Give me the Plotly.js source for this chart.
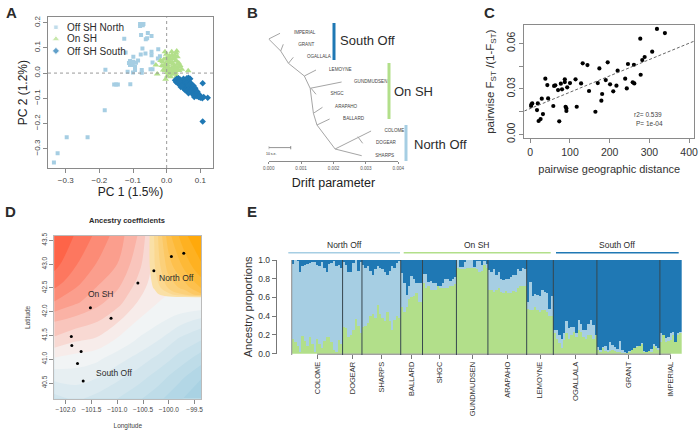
<!DOCTYPE html>
<html>
<head>
<meta charset="utf-8">
<script src="https://cdn.plot.ly/plotly-3.0.1.min.js"></script>
<style>html,body{margin:0;padding:0;background:#fff}</style>
</head>
<body>
<div id="chart" style="width:700px;height:433px"></div>
<script>
"use strict"

const W = 700, H = 433;
const font = 'Liberation Sans, Arial, sans-serif';
const lightBlue = '#a6cee3', midGreen = '#b2df8a', darkBlue = '#1f78b4';
const boxGrey = '#8a8a8a', tickText = '#444';

// panel A, PCA
const northX = [-.335,-.324,-.297,-.235,-.184,-.182,-.156,-.15,-.145,-.108,-.126,-.122,-.116,-.079,-.074,-.069,-.079,-.071,-.056,-.045,-.062,-.058,-.076,-.072,-.077,-.063,-.045,-.045,-.025,-.099,-.109,-.099,-.091,-.109,-.101,-.094,-.094,-.074,-.074,-.042,-.048,-.042,-.026,-.02,-.1,-.112,-.085];
const northY = [-.355,-.318,-.255,-.255,-.147,.013,-.045,-.045,-.045,-.044,.136,.082,.005,.195,.195,.195,.187,.19,.159,.147,.134,.138,.151,.098,.074,.078,.085,.071,.095,.065,.048,.045,.041,.032,.032,.025,.012,.012,.001,.042,.015,.015,.058,.067,.002,.04,.05];
const onX = [-.005,.015,.03,-.032,-.028,-.003,.064,.028,-.018,-.012,-.008,-.004,0,.004,.008,.012,.016,.02,.024,.028,.032,.036,.04,-.014,-.009,-.002,.003,.007,.011,.015,.019,.023,.027,.031,.035,-.01,-.005,.001,.005,.009,.013,.017,.021,.025,.029,.033,.037,.002,.006,.01,.014,.018,.022,.026,.03,.012,.02,.025,.008,.016,-.001,.045,.002];
const onY = [.085,.085,.088,.032,-.004,-.024,.009,.08,.05,.045,.055,.035,.06,.05,.068,.04,.072,.058,.065,.05,.065,.04,.03,.03,.028,.025,.032,.045,.055,.02,.035,.028,.048,.035,.025,.012,.01,.016,.022,.012,.01,.012,.018,.01,.02,.012,.01,.002,0,.004,-.002,.002,-.005,.003,-.012,-.015,.06,.07,.062,.042,.075,.015,-.012];
const southX = [.025,.03,.035,.04,.028,.033,.038,.045,.05,.055,.06,.065,.07,.048,.053,.058,.062,.067,.072,.042,.05,.055,.06,.065,.07,.075,.08,.055,.06,.065,.07,.075,.08,.085,.065,.07,.078,.083,.088,.092,.08,.085,.09,.095,.082,.09,.095,.1,.1,.106,.11,.122,.107,.107,.038,.045];
const southY = [-.028,-.022,-.02,-.025,-.035,-.04,-.045,-.03,-.022,-.028,-.02,-.018,-.022,-.04,-.045,-.05,-.04,-.035,-.04,-.055,-.06,-.055,-.06,-.05,-.055,-.06,-.05,-.068,-.07,-.065,-.068,-.07,-.065,-.06,-.08,-.075,-.08,-.075,-.07,-.075,-.088,-.085,-.08,-.085,-.095,-.092,-.095,-.09,-.098,-.1,-.095,-.098,-.04,-.192,-.032,-.05];
const legendNames = ['Off SH North', 'On SH', 'Off SH South'];
const legendKeyX = [-.329, -.329, -.329];
const legendKeyY = [.182, .135, .088];

// panel B, drift tree, segments as x/y pairs, null breaks a segment
const treeX = [0,.00035,null,0,.00037,.00061,.0011,.00128,.00138,.00149,.00205,.00316,null,.00037,.00045,null,.00061,.00076,null,.0011,.00146,null,.00128,.00225,null,.00131,.00146,null,.00138,.00166,null,.00149,.00188,null,.00205,.00287,null,.00275,.0029];
const treeY = [39,33.3,null,39,51,63.3,76,88.3,113.3,125,149,131,null,51,44.3,null,63.3,57.3,null,76,70,null,88.3,82,null,88.3,94.3,null,113.3,107.3,null,125,119,null,149,155.7,null,136.7,143.3];
const tipNames = ['IMPERIAL','GRANT','OGALLALA','LEMOYNE','GUNDMUDSEN','SHGC','ARAPAHO','BALLARD','COLOME','DOGEAR','SHARPS'];
const tipX = [.00111,.00116,.00155,.00221,.00315,.00211,.00239,.00262,.00388,.00362,.00358];
const tipY = [33.3,45.3,57.3,69.7,82,94.3,106.7,118.7,131,143.3,155.7];
const scaleBarX = [0,0,null,0,.00068,null,.00068,.00068];
const scaleBarY = [146,149.3,null,147.6,147.6,null,146,149.3];

// panel C, isolation by distance
const distance = [2,3,5,19,17,21,26,32,29,45,38,43,58,60,63,70,73,77,80,87,87,89,91,91,93,100,114,117,128,132,144,148,164,170,174,179,181,190,195,201,209,217,220,239,243,246,258,261,262,277,278,282,288,307,319,339];
const fst = [.0187,.0198,.0204,.0204,.016,.0088,.0101,.0134,.0235,.0237,.0367,.0325,.0187,.0319,.0323,.0292,.0086,.0334,.0297,.0345,.0363,.0182,.0171,.0154,.031,.0338,.0363,.0182,.0336,.0468,.0457,.0286,.0149,.0338,.0435,.0222,.0266,.0358,.0475,.033,.0284,.0321,.042,.0367,.0303,.0464,.0343,.0459,.0336,.0631,.0393,.049,.051,.0545,.0695,.0668];
const fitDistance = [-15,413];
const fitFst = [.0154,.0615];

// panel D, ancestry surfaces
const mapLon = [-102.22,-101.8,-101.4,-101,-100.6,-100.2,-99.8,-99.37];
const mapLat = [40.17,40.6,41,41.4,41.8,42.2,42.6,43,43.59];
const onSouthZ = [
	[-.42,-.35,-.42,-.5,-.6,-.72,-.85,-1],
	[-.22,-.2,-.25,-.35,-.45,-.57,-.72,-.87],
	[-.02,-.06,-.1,-.2,-.3,-.42,-.55,-.7],
	[.22,.14,.1,-.02,-.14,-.25,-.4,-.5],
	[.38,.32,.26,.14,-.01,-.1,-.2,-.3],
	[.62,.52,.42,.3,.12,.0,0,0],
	[.8,.66,.52,.42,.22,.02,0,0],
	[.92,.76,.62,.5,.3,.03,0,0],
	[1,.86,.72,.57,.37,.03,0,0]
];
const orangeLon = [-102.22,-100.4,-100.28,-100,-99.7,-99.37];
const orangeLat = [40.17,42.3,42.36,42.5,42.9,43.59];
const orangeZ = [
	[0,0,0,0,0,0],
	[0,0,0,0,0,0],
	[0,0,0,.12,.28,.5],
	[0,0,.05,.3,.45,.65],
	[0,0,.14,.45,.65,.85],
	[0,0,.17,.6,.85,1]
];
const siteLon = [-99.71,-99.95,-100.29,-100.6,-101.52,-101.12,-101.89,-101.88,-101.7,-101.77,-101.66];
const siteLat = [43.23,43.16,42.86,42.6,42.08,41.86,41.48,41.29,41.16,40.91,40.54];

// panel E, admixture, one group per population
const popNames = ['COLOME','DOGEAR','SHARPS','BALLARD','SHGC','GUNDMUDSEN','ARAPAHO','LEMOYNE','OGALLALA','GRANT','IMPERIAL'];
const greenShare = [
	[.16,.12,.08,.02,.19,.14,.08,.18,.1,.02,.16,.1,.06,.14,.18,.18,.12,.04,.02,.15,.1],
	[.28,.27,.18,.2,.25,.37,.3,.22],
	[.28,.3,.33,.4,.42,.38,.52,.42,.38,.35,.44,.35,.25,.36,.4,.38],
	[.5,.45,.5,.58,.6,.62,.65,.55,.55],
	[.75,.7,.72,.68,.68,.68,.72,.7,.7,.7,.7,.72,.72,.74],
	[.92,.9,.9,.9,.92,.92,.92,.92,.9,.87,.88,.95,.92],
	[.68,.68,.66,.68,.7,.66,.65,.67,.65,.65,.67,.66,.7,.72,.72,.72],
	[.48,.47,.47,.5,.47,.45,.47,.47,.45,.4,.4],
	[.22,.16,.11,.06,.15,.22,.16,.2,.23,.18,.25,.23,.18,.16,.2,.2,.16,.2],
	[.04,.02,.06,.03,.02,.03,.04,.03,.02,.02,.01,.01,.01,.02,.04,.06,.07,.08,.1,.02,.02,.03,.02,.08,.06,.04],
	[.13,.2,.12,.14,.15,.2,.12,.2,.22]
];
const darkShare = [
	[.04,0,.01,.13,.06,.05,.04,.03,.02,.02,.05,.06,.02,.09,.13,.04,.03,.01,.06,.05,.09],
	[.02,.05,.13,.13,.03,0,.12,.02],
	[.05,.08,.06,.12,.16,.1,.06,.09,.1,.13,.16,.12,.06,.09,.03,.01],
	[.14,.25,.37,.28,.17,.2,.25,.25,.25],
	[.15,.15,.23,.22,.25,.25,.28,.28,.25,.2,.2,.22,.2,.18],
	[0,.07,.07,.02,0,0,0,.07,.01,.01,.05,.01,.04],
	[.11,.13,.1,.16,.13,.2,.21,.2,.2,.18,.16,.16,.1,.12,.08,.1],
	[.45,.23,.38,.36,.37,.38,.32,.34,.35,.52,.38],
	[.75,.75,.8,.84,.78,.65,.73,.71,.71,.78,.64,.68,.75,.75,.68,.64,.69,.8],
	[.93,.96,.93,.92,.96,.88,.91,.93,.95,.86,.96,.98,.99,.97,.96,.94,.92,.92,.89,.97,.98,.97,.95,.9,.92,.94],
	[.78,.86,.83,.82,.78,.77,.88,.78,.77]
];
const ancestryTicks = [0,.2,.4,.6,.8,1];
const groupNames = ['North Off','On SH','South Off'];

// pixel position in the picture to paper coordinates
function px(x){ return x/W; }
function py(y){ return 1-y/H; }

function rAxis(left, right, range){
	return {
		domain: [px(left), px(right)], range: range,
		showgrid: false, zeroline: false, showline: true, mirror: true,
		linecolor: boxGrey, linewidth: 1, ticks: 'outside', ticklen: 4, tickcolor: boxGrey,
		tickfont: {family: font, size: 8, color: tickText}
	};
}
function rAxisY(top, bottom, range){
	let axis = rAxis(0, 1, range);
	axis.domain = [py(bottom), py(top)];
	axis.tickangle = -90;
	return axis;
}
function label(x, y, text, size, extra){
	return Object.assign({
		xref: 'paper', yref: 'paper', x: px(x), y: py(y), text: text, showarrow: false,
		font: {family: font, size: size, color: '#2b2b2b'}, xanchor: 'center', yanchor: 'middle'
	}, extra || {});
}

let data = [];

// A
data.push({x: northX, y: northY, xaxis: 'x', yaxis: 'y', type: 'scatter', mode: 'markers',
	marker: {symbol: 'square', size: 4, color: lightBlue}});
data.push({x: onX, y: onY, xaxis: 'x', yaxis: 'y', type: 'scatter', mode: 'markers',
	marker: {symbol: 'triangle-up', size: 6, color: midGreen}});
data.push({x: southX, y: southY, xaxis: 'x', yaxis: 'y', type: 'scatter', mode: 'markers',
	marker: {symbol: 'diamond', size: 5, color: darkBlue}});
data.push({x: legendKeyX, y: legendKeyY, xaxis: 'x', yaxis: 'y', type: 'scatter', mode: 'markers',
	marker: {symbol: ['square','triangle-up','diamond'], size: [4.5,7,5.5], color: [lightBlue,midGreen,darkBlue]}});

// B
data.push({x: treeX, y: treeY, xaxis: 'x2', yaxis: 'y2', type: 'scatter', mode: 'lines',
	line: {color: '#a5a5a5', width: 1}, connectgaps: false});
data.push({x: scaleBarX, y: scaleBarY, xaxis: 'x2', yaxis: 'y2', type: 'scatter', mode: 'lines',
	line: {color: '#777', width: .8}});
data.push({x: tipX, y: tipY, text: tipNames, xaxis: 'x2', yaxis: 'y2', type: 'scatter', mode: 'text',
	textposition: 'middle center', cliponaxis: false, textfont: {family: font, size: 4.6, color: '#444'}});

// C
data.push({x: distance, y: fst, xaxis: 'x3', yaxis: 'y3', type: 'scatter', mode: 'markers',
	marker: {size: 4.2, color: '#000'}});
data.push({x: fitDistance, y: fitFst, xaxis: 'x3', yaxis: 'y3', type: 'scatter', mode: 'lines',
	line: {color: '#666', width: 1, dash: '3px,2px'}});

// D
let contourLines = {width: 0};
data.push({x: mapLon, y: mapLat, z: onSouthZ, xaxis: 'x4', yaxis: 'y4', type: 'contour', showscale: false,
	zmin: -1, zmax: 1, autocontour: false, contours: {start: -1, end: 1, size: .125, coloring: 'fill', showlines: false},
	line: contourLines,
	colorscale: [[0,'#a4d0e2'],[.5,'#f6f6f6'],[1,'#ff5a3c']]});
data.push({x: orangeLon, y: orangeLat, z: orangeZ, xaxis: 'x4', yaxis: 'y4', type: 'contour', showscale: false,
	zmin: 0, zmax: 1, autocontour: false, contours: {start: .04, end: 1, size: .12, coloring: 'fill', showlines: false},
	line: contourLines,
	colorscale: [[0,'rgba(255,170,20,0)'],[.04,'rgba(250,225,170,1)'],[1,'rgba(255,165,0,1)']]});
data.push({x: siteLon, y: siteLat, xaxis: 'x4', yaxis: 'y4', type: 'scatter', mode: 'markers',
	marker: {size: 3, color: '#000'}});

// E, individuals sit side by side, populations follow each other
let greenAll = [], darkAll = [], lightAll = [], index = [];
let popEdges = [0], popMids = [];
for(let p=0;p<popNames.length;p++){
	let start = index.length;
	for(let i=0;i<greenShare[p].length;i++){
		index.push(index.length+.5);
		greenAll.push(greenShare[p][i]);
		darkAll.push(darkShare[p][i]);
		lightAll.push(Math.max(0, 1-greenShare[p][i]-darkShare[p][i]));
	}
	popEdges.push(index.length);
	popMids.push((start+index.length)/2);
}
let ancestry = [[greenAll,midGreen],[lightAll,lightBlue],[darkAll,darkBlue]];
for(let a=0;a<ancestry.length;a++){
	data.push({x: index, y: ancestry[a][0], xaxis: 'x5', yaxis: 'y5', type: 'bar', width: 1,
		marker: {color: ancestry[a][1], line: {width: 0}}});
}

// shapes
let shapes = [
	{type: 'line', xref: 'x', yref: 'y domain', x0: 0, x1: 0, y0: 0, y1: 1, line: {color: '#999', width: 1, dash: 'dot'}},
	{type: 'line', xref: 'x domain', yref: 'y', x0: 0, x1: 1, y0: 0, y1: 0, line: {color: '#999', width: 1, dash: 'dot'}},
	{type: 'rect', xref: 'paper', yref: 'paper', x0: px(332.5), x1: px(335.5), y0: py(60), y1: py(23), fillcolor: darkBlue, line: {width: 0}},
	{type: 'rect', xref: 'paper', yref: 'paper', x0: px(387.5), x1: px(390.5), y0: py(119), y1: py(63), fillcolor: midGreen, line: {width: 0}},
	{type: 'rect', xref: 'paper', yref: 'paper', x0: px(404.5), x1: px(407.5), y0: py(161), y1: py(125), fillcolor: lightBlue, line: {width: 0}},
	{type: 'line', xref: 'paper', yref: 'paper', x0: px(288.3), x1: px(400), y0: py(252.7), y1: py(252.7), line: {color: lightBlue, width: 1.5}},
	{type: 'line', xref: 'paper', yref: 'paper', x0: px(403.7), x1: px(550.7), y0: py(252.7), y1: py(252.7), line: {color: midGreen, width: 1.5}},
	{type: 'line', xref: 'paper', yref: 'paper', x0: px(556), x1: px(678.7), y0: py(252.7), y1: py(252.7), line: {color: darkBlue, width: 1.5}},
	{type: 'line', xref: 'x5', yref: 'paper', x0: popMids[0], x1: popMids[popMids.length-1], y0: py(354.2), y1: py(354.2), line: {color: '#777', width: 1}}
];
for(let e=0;e<popEdges.length-1;e++){
	shapes.push({type: 'line', xref: 'x5', yref: 'paper', x0: popEdges[e], x1: popEdges[e], y0: py(260), y1: py(355),
		line: {color: e===0 ? '#888' : '#37474f', width: 1}});
}

// axes
let xA = rAxis(48, 213, [-.3526,.1377]);
xA.tickvals = [-.3,-.2,-.1,0,.1];
xA.tickformat = '.1f';
xA.title = {text: 'PC 1 (1.5%)', font: {family: font, size: 12, color: '#222'}, standoff: 3};
let yA = rAxisY(17.3, 168, [-.3766,.2214]);
yA.tickvals = [-.3,-.2,-.1,0,.1,.2];
yA.tickformat = '.1f';
yA.title = {text: 'PC 2 (1.2%)', font: {family: font, size: 12, color: '#222'}, standoff: 2};

let xB = rAxis(268.7, 398.3, [0,.004]);
xB.mirror = false;
xB.tickvals = [0,.001,.002,.003,.004];
xB.tickformat = '.3f';
xB.ticklen = 2;
xB.tickfont = {family: font, size: 4.6, color: '#555'};
xB.title = {text: 'Drift parameter', font: {family: font, size: 12.5, color: '#222'}, standoff: 8};
let yB = {domain: [py(161.3), py(20)], range: [161.3,20], visible: false, anchor: 'x2'};

let xC = rAxis(524.3, 694.3, [-15,413]);
xC.tickvals = [0,100,200,300,400];
xC.tickfont = {family: font, size: 10.5, color: '#333'};
xC.title = {text: 'pairwise geographic distance', font: {family: font, size: 11, color: '#333'}, standoff: 8};
let yC = rAxisY(25, 138.3, [-.0026,.0721]);
yC.tickvals = [0,.03,.06];
yC.tickformat = '.2f';
yC.minor = {tickvals: [.015,.045], ticks: 'outside', ticklen: 4, tickcolor: boxGrey};
yC.tickfont = {family: font, size: 10.5, color: '#333'};
yC.title = {text: 'pairwise F<sub>ST</sub> /(1-F<sub>ST</sub>)', font: {family: font, size: 11.5, color: '#333'}, standoff: 8};

let xD = rAxis(54.3, 201.3, [-102.22,-99.37]);
xD.tickvals = [-102,-101.5,-101,-100.5,-100,-99.5];
xD.tickformat = '.1f';
xD.linecolor = '#bbb';
xD.tickfont = {family: font, size: 6.5, color: tickText};
xD.title = {text: 'Longitude', font: {family: font, size: 6.5, color: tickText}, standoff: 11};
let yD = rAxisY(236, 398.7, [40.17,43.59]);
yD.tickvals = [40.5,41,41.5,42,42.5,43,43.5];
yD.tickformat = '.1f';
yD.linecolor = '#bbb';
yD.tickfont = {family: font, size: 6.5, color: tickText};
yD.title = {text: 'Latitude', font: {family: font, size: 6.5, color: tickText}, standoff: 9};

let xE = rAxis(276.7, 681.7, [-6.2,161]);
xE.showline = false;
xE.mirror = false;
xE.tickvals = popMids;
xE.ticktext = popNames;
xE.tickangle = -90;
xE.tickcolor = '#777';
xE.ticklen = 4;
xE.tickfont = {family: font, size: 7.5, color: '#333'};
let yE = rAxisY(260, 353.7, [0,1]);
yE.mirror = false;
yE.tickangle = 0;
yE.tickvals = ancestryTicks;
yE.tickformat = '.1f';
yE.linecolor = '#777';
yE.tickcolor = '#777';
yE.tickfont = {family: font, size: 8.5, color: '#333'};
yE.title = {text: 'Ancestry proportions', font: {family: font, size: 11, color: '#333'}, standoff: 3};

let annotations = [
	label(11, 12, '<b>A</b>', 15),
	label(252, 12, '<b>B</b>', 15),
	label(490, 12, '<b>C</b>', 15),
	label(10, 211, '<b>D</b>', 15),
	label(252, 211, '<b>E</b>', 15),
	label(64.5, 27.3, legendNames[0], 10, {xanchor: 'left'}),
	label(64.5, 39, legendNames[1], 10, {xanchor: 'left'}),
	label(64.5, 51, legendNames[2], 10, {xanchor: 'left'}),
	label(338, 40.7, 'South Off', 13, {xanchor: 'left'}),
	label(392.3, 91.7, 'On SH', 13, {xanchor: 'left'}),
	label(412, 144.5, 'North Off', 13, {xanchor: 'left'}),
	label(271.7, 153.7, '10 s.e.', 3.5),
	label(647.7, 114.3, 'r2= 0.539', 6.5, {font: {family: font, size: 6.5, color: '#444'}}),
	label(649, 124, 'P= 1e-04', 6.5, {font: {family: font, size: 6.5, color: '#444'}}),
	label(127, 220.7, '<b>Ancestry coefficients</b>', 7.5),
	label(100.7, 293.7, 'On SH', 8.5),
	label(176.7, 277.7, 'North Off', 8.5),
	label(113.7, 372.7, 'South Off', 8.5),
	label(344.3, 245, groupNames[0], 8.5),
	label(477, 245, groupNames[1], 8.5),
	label(616.7, 245, groupNames[2], 8.5)
];

let layout = {
	width: W, height: H, autosize: false, showlegend: false, barmode: 'stack', bargap: 0,
	margin: {l: 0, r: 0, t: 0, b: 0},
	paper_bgcolor: '#fff', plot_bgcolor: '#fff',
	font: {family: font},
	xaxis: Object.assign(xA, {anchor: 'y'}), yaxis: Object.assign(yA, {anchor: 'x'}),
	xaxis2: Object.assign(xB, {anchor: 'y2'}), yaxis2: yB,
	xaxis3: Object.assign(xC, {anchor: 'y3'}), yaxis3: Object.assign(yC, {anchor: 'x3'}),
	xaxis4: Object.assign(xD, {anchor: 'y4'}), yaxis4: Object.assign(yD, {anchor: 'x4'}),
	xaxis5: Object.assign(xE, {anchor: 'y5'}), yaxis5: Object.assign(yE, {anchor: 'x5'}),
	shapes: shapes,
	annotations: annotations
};

Plotly.newPlot('chart', data, layout, {staticPlot: true, displayModeBar: false});
</script>
</body>
</html>
